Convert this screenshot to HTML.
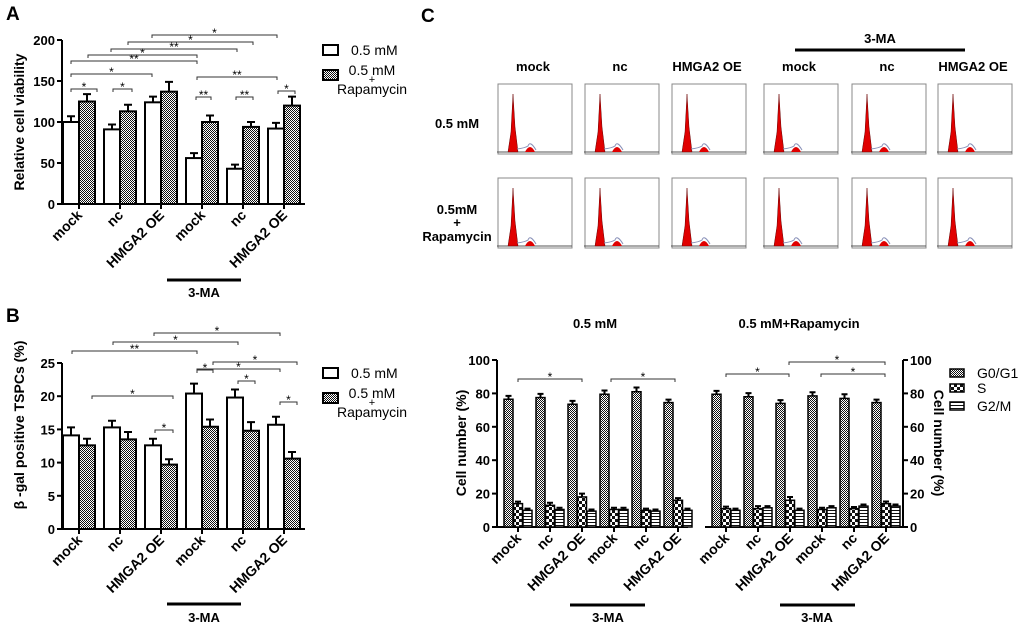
<!DOCTYPE html>
<html><head><meta charset="utf-8"><style>
body{margin:0;background:#fff;}
svg{display:block;font-family:"Liberation Sans",Arial,sans-serif;}
.b{font-weight:bold;}
</style></head><body>
<svg id="fig" width="1020" height="628" viewBox="0 0 1020 628">
<defs>
<pattern id="pRapa" width="2" height="2" patternUnits="userSpaceOnUse"><rect width="2" height="2" fill="#fff"/><rect width="1" height="1" fill="#111"/><rect x="1" y="1" width="1" height="1" fill="#111"/></pattern>
<pattern id="pS" width="6" height="6" patternUnits="userSpaceOnUse"><rect width="6" height="6" fill="#fff"/><rect width="3" height="3" fill="#111"/><rect x="3" y="3" width="3" height="3" fill="#111"/></pattern>
<pattern id="pG2" width="3" height="3" patternUnits="userSpaceOnUse"><rect width="3" height="3" fill="#fff"/><rect width="3" height="1" fill="#111"/></pattern>
</defs>
<text x="6" y="20" font-size="19" class="b">A</text>
<text x="6" y="322" font-size="19" class="b">B</text>
<text x="421" y="22" font-size="19" class="b">C</text>
<g id="gA"></g>
<g id="gB"></g>
<g id="gFlow"></g>
<g id="gC"></g>
</svg>
<script>
// ---- data ----
const groups = ["mock","nc","HMGA2 OE","mock","nc","HMGA2 OE"];
const aTicks = [0,50,100,150,200];
const aLow = [100,91,124,56,43,92];
const aLowErr = [7,6,7,6,5,7];
const aRapa = [125,113,137,100,94,120];
const aRapaErr = [9,8,12,8,6,11];
const bTicks = [0,5,10,15,20,25];
const bLow = [14.1,15.3,12.6,20.4,19.8,15.7];
const bLowErr = [1.2,1.0,1.0,1.5,1.2,1.2];
const bRapa = [12.6,13.5,9.7,15.4,14.8,10.6];
const bRapaErr = [1.0,1.1,0.8,1.1,1.3,1.0];
const cTicks = [0,20,40,60,80,100];
const cLeftG0 = [76.5,77.5,73.5,79.5,81,74.5];
const cLeftS = [14,13,18,10.5,10,16];
const cLeftG2 = [10,10.5,9.5,10.5,9.5,10];
const cRightG0 = [79.5,78,74,78.5,77,74.5];
const cRightS = [11,11,16,10.5,11,14];
const cRightG2 = [10,11.5,10,11.5,12.5,12.5];
const cErrG0 = [2,2.2,2,2.2,2.5,1.8];
const cErrS = [1.2,1.5,2,1,1,1.3];
const flowCols = ["mock","nc","HMGA2 OE","mock","nc","HMGA2 OE"];

const NS="http://www.w3.org/2000/svg";
function mk(parent,tag,attrs,txt){const e=document.createElementNS(NS,tag);for(const k in attrs)e.setAttribute(k,attrs[k]);if(txt!==undefined)e.textContent=txt;parent.appendChild(e);return e;}

function bracket(g,x1,x2,y,label){
  const p=mk(g,'path',{d:`M${x1},${y+3}V${y}H${x2}V${y+3}`,fill:'none',stroke:'#333','stroke-width':1});
  
  
  const t=mk(g,'text',{x:(x1+x2)/2,y:y+2,'font-size':12,'text-anchor':'middle'},label);
  
  
}
function errBar(g,x,yTop,yErr,w){
  const p=mk(g,'path',{d:`M${x},${yTop}V${yErr}M${x-w/2},${yErr}H${x+w/2}`,stroke:'#000','stroke-width':2,fill:'none'});
  
  
}
function xLabels(g,ticks,y0){
  groups.forEach((n,i)=>{
    const t=mk(g,'text',{x:ticks[i]+4,y:y0+12,'font-size':14,'text-anchor':'end',class:'b',transform:`rotate(-45 ${ticks[i]+4} ${y0+12})`},n);
    
    
  });
}
function legend2(g,y){
  const r1=mk(g,'rect',{x:323,y:y,width:15,height:10,fill:'#fff',stroke:'#000','stroke-width':2});
  
  
  const t1=mk(g,'text',{x:351,y:y+10,'font-size':14},'0.5 mM');
  
  
  const r2=mk(g,'rect',{x:323,y:y+25,width:15,height:10,fill:'url(#pRapa)',stroke:'#000','stroke-width':2});
  
  
  const t2=mk(g,'text',{x:372,y:y+30,'font-size':14,'text-anchor':'middle'},'0.5 mM');
  
  
  mk(g,'text',{x:372,y:y+38,'font-size':11,'text-anchor':'middle'},'+');
  mk(g,'text',{x:372,y:y+49,'font-size':14,'text-anchor':'middle'},'Rapamycin');
}

function pairChart(g,cfg){
  const {y0,yTop,max,ticks,low,lowE,rapa,rapaE,title,titleY}=cfg;
  const ys=v=>y0-v/max*(y0-yTop);
  const tx=i=>79+41*i;
  const ticksX=groups.map((_,i)=>tx(i));
  const ax=mk(g,'path',{d:`M62,${yTop}V${y0}H305`,stroke:'#000','stroke-width':2,fill:'none'});
  
  
  ticks.forEach(v=>{
    mk(g,'line',{x1:57,x2:62,y1:ys(v),y2:ys(v),stroke:'#000','stroke-width':2});
    const t=mk(g,'text',{x:55,y:ys(v)+5,'font-size':13,'text-anchor':'end',class:'b'},v);
    
    
  });
  ticksX.forEach(x=>mk(g,'line',{x1:x,x2:x,y1:y0,y2:y0+5,stroke:'#000','stroke-width':2}));
  low.forEach((v,i)=>{
    const x=tx(i);
    errBar(g,x-8,ys(v),ys(v+lowE[i]),8);
    const r=mk(g,'rect',{x:x-16,y:ys(v),width:16,height:y0-ys(v),fill:'#fff',stroke:'#000','stroke-width':2});
    
    
  });
  rapa.forEach((v,i)=>{
    const x=tx(i);
    errBar(g,x+8,ys(v),ys(v+rapaE[i]),8);
    const r=mk(g,'rect',{x:x,y:ys(v),width:16,height:y0-ys(v),fill:'url(#pRapa)',stroke:'#000','stroke-width':2});
    
    
  });
  xLabels(g,ticksX,y0);
  const yt=mk(g,'text',{x:0,y:0,'font-size':14,'text-anchor':'middle',class:'b',transform:`translate(24 ${titleY}) rotate(-90)`},title);
  
  
}

// Panel A
const gA=document.getElementById('gA');
pairChart(gA,{y0:204,yTop:40,max:200,ticks:aTicks,low:aLow,lowE:aLowErr,rapa:aRapa,rapaE:aRapaErr,title:'Relative cell viability',titleY:122});
[[152,277,35,'*'],[128,253,42,'*'],[111,237,49,'**'],[88,197,55,'*'],[71,197,61,'**'],[71,152,74,'*'],[197,277,77,'**'],
 [71,97,89,'*'],[113,132,89,'*'],[196,211,97,'**'],[236,253,97,'**'],[278,295,91,'*']].forEach(b=>bracket(gA,b[0],b[1],b[2],b[3]));
mk(gA,'line',{x1:167,x2:241,y1:280,y2:280,stroke:'#000','stroke-width':3});
mk(gA,'text',{x:204,y:297,'font-size':13,'text-anchor':'middle',class:'b'},'3-MA');
legend2(gA,45);

// Panel B
const gB=document.getElementById('gB');
pairChart(gB,{y0:529,yTop:363,max:25,ticks:bTicks,low:bLow,lowE:bLowErr,rapa:bRapa,rapaE:bRapaErr,title:'β -gal positive TSPCs (%)',titleY:425});
[[154,280,333,'*'],[113,238,342,'*'],[72,197,351,'**'],[213,297,362,'*'],[197,280,369,'*'],[197,213,370,'*'],
 [238,255,381,'*'],[92,173,396,'*'],[280,297,402,'*'],[155,173,430,'*']].forEach(b=>bracket(gB,b[0],b[1],b[2],b[3]));
mk(gB,'line',{x1:167,x2:241,y1:604,y2:604,stroke:'#000','stroke-width':3});
mk(gB,'text',{x:204,y:622,'font-size':13,'text-anchor':'middle',class:'b'},'3-MA');
legend2(gB,368);

// Flow histograms
const gF=document.getElementById('gFlow');
const fx=[495,582,669,761,849,935], fy=[84,178];
flowCols.forEach((n,i)=>{
  const t=mk(gF,'text',{x:fx[i]+38,y:71,'font-size':13,'text-anchor':'middle',class:'b'},n);
  
  
});
mk(gF,'line',{x1:795,x2:965,y1:50,y2:50,stroke:'#000','stroke-width':3});
mk(gF,'text',{x:880,y:43,'font-size':13,'text-anchor':'middle',class:'b'},'3-MA');
mk(gF,'text',{x:457,y:128,'font-size':13,'text-anchor':'middle',class:'b'},'0.5 mM');
mk(gF,'text',{x:457,y:214,'font-size':13,'text-anchor':'middle',class:'b'},'0.5mM');
mk(gF,'text',{x:457,y:227,'font-size':13,'text-anchor':'middle',class:'b'},'+');
mk(gF,'text',{x:457,y:241,'font-size':13,'text-anchor':'middle',class:'b'},'Rapamycin');
fy.forEach(y=>fx.forEach(x=>{
  const w=77,h=70,b=y+68;
  const box=mk(gF,'rect',{x:x+3,y:y,width:w-3,height:h,fill:'#fff',stroke:'#888','stroke-width':1});
  
  
  mk(gF,'line',{x1:x+2,x2:x+w,y1:b,y2:b,stroke:'#555','stroke-width':1});
  const px=x+18;
  mk(gF,'path',{d:`M${px-5},${b}L${px-2},${b-20}L${px},${y+10}L${px+2},${b-25}L${px+5},${b}Z`,fill:'#e00000',stroke:'#600','stroke-width':0.5});
  const qx=x+35;
  mk(gF,'path',{d:`M${qx-5},${b}Q${qx},${b-10} ${qx+5},${b}Z`,fill:'#e00000'});
  mk(gF,'path',{d:`M${px+4},${b-3}Q${px+12},${b-4} ${qx-2},${b-6}Q${qx},${b-12} ${qx+6},${b-2}`,fill:'none',stroke:'#8890b8','stroke-width':1});
}));

// Panel C bars
const gC=document.getElementById('gC');
const cY0=527,cYT=360;
const cys=v=>cY0-v/100*(cY0-cYT);
function cPlot(x0,x1,tick0,g0,s,g2,right){
  const ax=mk(gC,'path',{d:right?`M${x0},${cY0}H${x1}V${cYT}`:`M${x0},${cYT}V${cY0}H${x1}`,stroke:'#000','stroke-width':2,fill:'none'});
  
  
  const ticks=groups.map((_,i)=>tick0+32*i);
  ticks.forEach((t,i)=>{
    mk(gC,'line',{x1:t,x2:t,y1:cY0,y2:cY0+5,stroke:'#000','stroke-width':2});
    [[g0[i],'url(#pRapa)',-14,cErrG0[i],'bar-g0-g1'],[s[i],'url(#pS)',-4.5,cErrS[i],'bar-s'],[g2[i],'url(#pG2)',5,1,'bar-g2-m']].forEach(d=>{
      errBar(gC,t+d[2]+4.5,cys(d[0]),cys(d[0]+d[3]),6);
      const r=mk(gC,'rect',{x:t+d[2],y:cys(d[0]),width:9,height:cY0-cys(d[0]),fill:d[1],stroke:'#000','stroke-width':1.5});
      
      
    });
  });
  xLabels(gC,ticks,cY0);
}
cPlot(497,688,518,cLeftG0,cLeftS,cLeftG2,false);
cPlot(705,903,726,cRightG0,cRightS,cRightG2,true);
cTicks.forEach(v=>{
  mk(gC,'line',{x1:492,x2:497,y1:cys(v),y2:cys(v),stroke:'#000','stroke-width':2});
  mk(gC,'text',{x:490,y:cys(v)+5,'font-size':13,'text-anchor':'end',class:'b'},v);
  mk(gC,'line',{x1:903,x2:908,y1:cys(v),y2:cys(v),stroke:'#000','stroke-width':2});
  mk(gC,'text',{x:910,y:cys(v)+5,'font-size':13,class:'b'},v);
});
const cyl=mk(gC,'text',{x:0,y:0,'font-size':14,'text-anchor':'middle',class:'b',transform:'translate(466 443) rotate(-90)'},'Cell number (%)');


const cyr=mk(gC,'text',{x:0,y:0,'font-size':14,'text-anchor':'middle',class:'b',transform:'translate(934 443) rotate(90)'},'Cell number (%)');


mk(gC,'text',{x:595,y:328,'font-size':13,'text-anchor':'middle',class:'b'},'0.5 mM');
mk(gC,'text',{x:799,y:328,'font-size':13,'text-anchor':'middle',class:'b'},'0.5 mM+Rapamycin');
[[518,582,379],[611,675,379],[726,789,374],[789,885,362],[821,885,374]].forEach(b=>bracket(gC,b[0],b[1],b[2],'*'));
mk(gC,'line',{x1:570,x2:645,y1:605,y2:605,stroke:'#000','stroke-width':3});
mk(gC,'text',{x:608,y:622,'font-size':13,'text-anchor':'middle',class:'b'},'3-MA');
mk(gC,'line',{x1:780,x2:855,y1:605,y2:605,stroke:'#000','stroke-width':3});
mk(gC,'text',{x:817,y:622,'font-size':13,'text-anchor':'middle',class:'b'},'3-MA');
[['url(#pRapa)','G0/G1',369],['url(#pS)','S',384],['url(#pG2)','G2/M',402]].forEach(d=>{
  const r=mk(gC,'rect',{x:950,y:d[2],width:14,height:8,fill:d[0],stroke:'#000','stroke-width':1.5});
  
  
  const t=mk(gC,'text',{x:977,y:d[2]+9,'font-size':14},d[1]);
  
  
});
</script>
</body></html>
